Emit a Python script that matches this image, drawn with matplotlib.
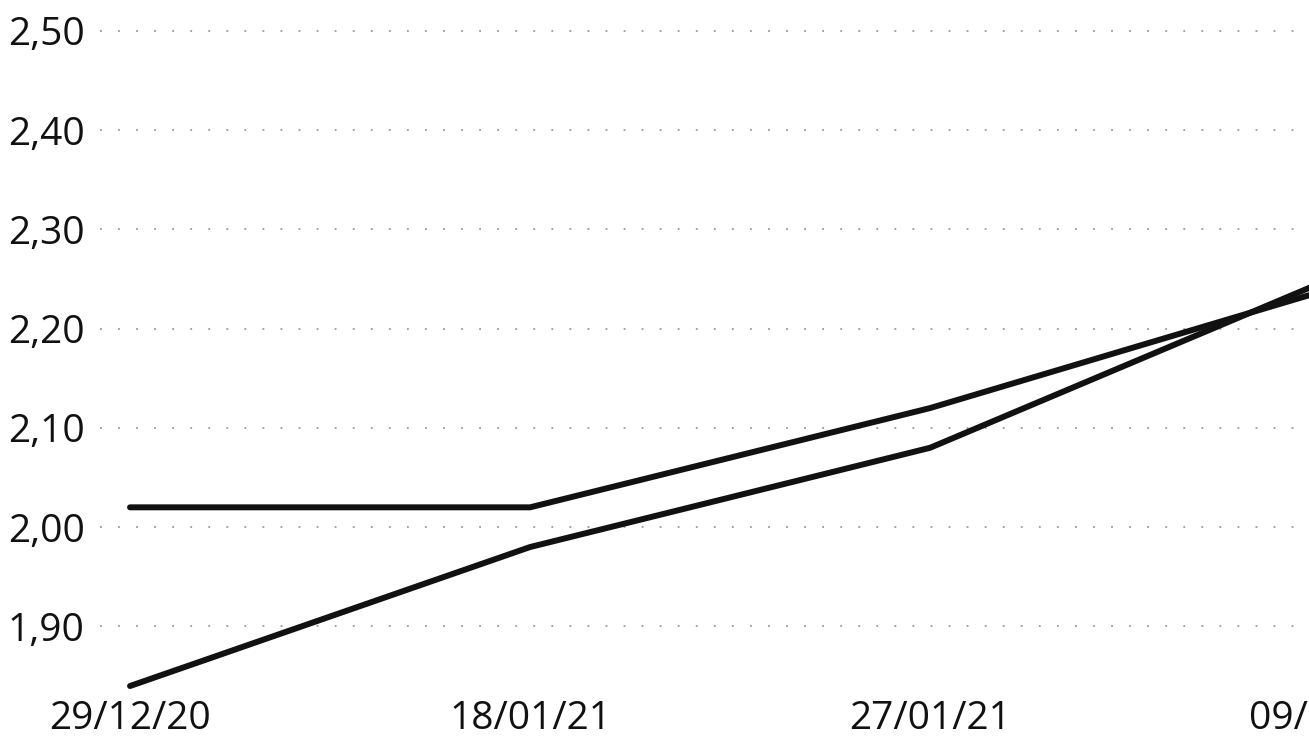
import matplotlib
matplotlib.use('Agg')
import matplotlib.pyplot as plt

# data
dates = ['29/12/20', '18/01/21', '27/01/21', '09/02/21']
serie_a = [2.02, 2.02, 2.12, 2.24]
serie_b = [1.84, 1.98, 2.08, 2.25]
y_ticks = [1.90, 2.00, 2.10, 2.20, 2.30, 2.40, 2.50]
y_labels = ['1,90', '2,00', '2,10', '2,20', '2,30', '2,40', '2,50']

plt.rcParams['font.family'] = ['Open Sans', 'DejaVu Sans']

fig = plt.figure(figsize=(13.09, 7.41), dpi=100)
# axes runs past the right edge, so the last date label gets cut off
ax = fig.add_axes([0.0764, 0.0675, 0.978, 0.9177])

x = list(range(len(dates)))
ax.plot(x, serie_a, color='#111111', linewidth=4.3, solid_capstyle='round')
ax.plot(x, serie_b, color='#111111', linewidth=4.3, solid_capstyle='round')

ax.set_xlim(-0.075, 3.125)
ax.set_ylim(1.835, 2.52)
ax.set_xticks(x)
ax.set_xticklabels(dates)
ax.set_yticks(y_ticks)
ax.set_yticklabels(y_labels)

ax.tick_params(axis='both', length=0, labelsize=28, colors='#111111')
ax.tick_params(axis='y', pad=11)
ax.tick_params(axis='x', pad=6.5)

ax.grid(axis='y', color='#999999', linewidth=1.3, linestyle=(0, (1, 9)))
ax.grid(axis='x', visible=False)
for s in ax.spines.values():
    s.set_visible(False)

plt.savefig('out.png', dpi=100)
